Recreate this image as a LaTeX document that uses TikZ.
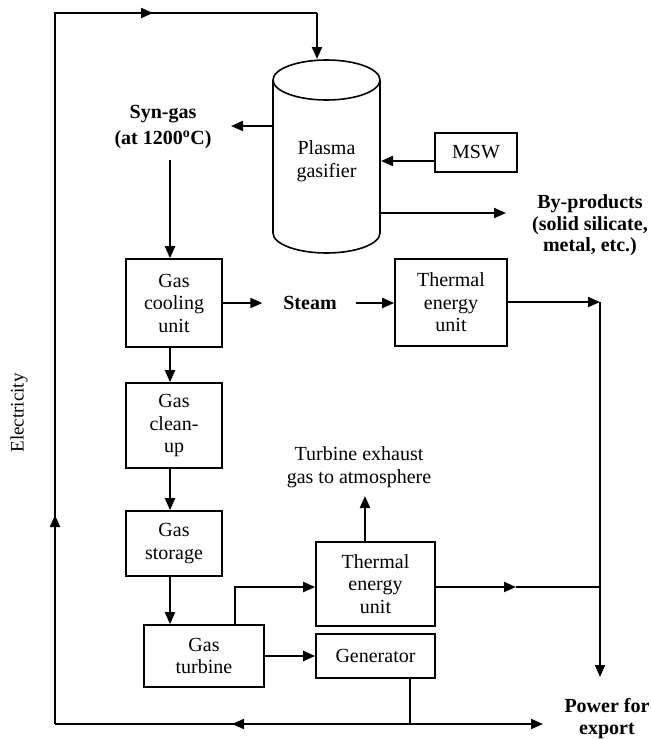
\documentclass[tikz,border=0pt]{standalone}
\usepackage{fontspec}
\setmainfont{Liberation Serif}
\usetikzlibrary{arrows.meta,calc}
\newcommand\dfont{\fontsize{20}{22.5}\selectfont}
\begin{document}
\begin{tikzpicture}[x=1pt,y=-1pt, line width=2pt,
  arr/.style={-{Triangle[length=12pt,width=10pt]}},
  thin/.style={line width=1.4pt},
  box/.style={draw, line width=1.6pt, inner sep=0pt, align=center, font=\dfont},
  lbl/.style={inner sep=2pt, align=center, font=\dfont},
  blbl/.style={inner sep=2pt, align=center, font=\dfont\bfseries}]
\useasboundingbox (0,0) rectangle (651,740);
% cylinder outline
\draw[line width=1.6pt] (326.5,80) ellipse [x radius=53.5, y radius=20];
\draw[line width=1.6pt] (273,80) -- (273,233) .. controls (273,244) and (297,253) .. (326.5,253)
      .. controls (356,253) and (380,244) .. (380,233) -- (380,80);
\node[lbl, inner sep=0pt, minimum width=107, minimum height=202] (gas) at (326.5,161) {Plasma\\gasifier};
% nodes
\node[box, minimum width=82, minimum height=39] (msw) at (476,152.5) {MSW};
\node[blbl] (syn) at (163,127) {Syn-gas\\[4pt](at 1200\textsuperscript{o}C)};
\node[blbl, font=\fontsize{20}{21.5}\selectfont\bfseries] (byp) at (590,225.5) {By-products\\(solid silicate,\\metal, etc.)};
\node[box, minimum width=96, minimum height=88] (cool) at (174,303) {Gas\\cooling\\unit};
\node[blbl] (steam) at (310,303) {Steam};
\node[box, minimum width=112, minimum height=87] (therm1) at (451,302.5) {Thermal\\energy\\unit};
\node[box, minimum width=96, minimum height=85] (clean) at (174,425.5) {Gas\\clean-\\up};
\node[lbl] (exh) at (359,467) {Turbine exhaust\\gas to atmosphere};
\node[box, minimum width=96, minimum height=65] (store) at (174,543.5) {Gas\\storage};
\node[box, minimum width=119, minimum height=84] (therm2) at (375.5,584) {Thermal\\energy\\unit};
\node[box, minimum width=120, minimum height=62] (turb) at (204,656) {Gas\\turbine};
\node[box, minimum width=119, minimum height=44] (gen) at (375.5,656) {Generator};
\node[blbl] (power) at (607,718.5) {Power for\\export};
\node[lbl, font=\fontsize{19}{21}\selectfont, rotate=90] (elec) at (19,413) {Electricity};
% coordinates
\coordinate (tl) at (55,13);
\coordinate (bl) at (55,724);
\coordinate (tr) at (317,13);
\coordinate (ta) at (153,13);
\coordinate (la) at (55,515);
\coordinate (bj) at (410,724);
\coordinate (ba) at (232,724);
\coordinate (br) at (543,724);
\coordinate (rc) at (600,302);
\coordinate (rb) at (600,677);
\coordinate (ra) at (516,587);
\coordinate (synt) at (231,126);
\coordinate (syns) at (170,160);
\coordinate (mswy) at (0,161);
\coordinate (bypt) at (506,213);
\coordinate (exht) at (365,496);
% electricity loop
\draw (bl) -- (tl) -- (tr);
\draw[arr] (bl) -- (la);
\draw[arr] (tl) -- (ta);
\draw[arr] (tr) -- (tr |- gas.north);
\draw[thin] (gen.south -| bj) -- (bj);
\draw (bl) -- (bj);
\draw[arr] (bj) -- (ba);
\draw[arr] (bj) -- (br);
% gasifier connections
\draw[arr] (gas.west |- synt) -- (synt);
\draw[arr] (msw.west |- mswy) -- (gas.east |- mswy);
\draw[arr] (gas.east |- bypt) -- (bypt);
\draw[arr] (syns) -- (syns |- cool.north);
% main chain
\draw[arr] (cool.east |- steam) -- ([xshift=-18]steam.west);
\draw[arr] ([xshift=16]steam.east) -- (therm1.west |- steam);
\draw[arr] (therm1.east |- rc) -- (rc);
\draw[thin,arr] (rc) -- (rb);
\draw[arr] ([xshift=-4]cool.south) -- ([xshift=-4]clean.north);
\draw[arr] ([xshift=-4]clean.south) -- ([xshift=-4]store.north);
\draw[arr] ([xshift=-4]store.south) -- ([xshift=-4]store.south |- turb.north);
\draw[arr] ([xshift=31]turb.north) |- (therm2.west |- ra);
\draw[arr] (turb.east) -- (turb.east -| gen.west);
\draw[arr] (exht |- therm2.north) -- (exht);
\draw[thin] (ra) -- (rc |- ra);
\draw[arr] (therm2.east |- ra) -- (ra);
\end{tikzpicture}
\end{document}
